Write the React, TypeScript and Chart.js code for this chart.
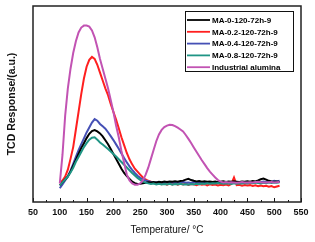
import React, { useEffect, useRef } from "react";
import { Chart, registerables } from "chart.js";

Chart.register(...registerables);

const temps = [
  100, 105, 110, 115, 120, 125, 130, 135, 140, 145, 150, 155, 160, 165, 170, 175, 180, 185, 190, 195,
  200, 205, 210, 215, 220, 225, 230, 235, 240, 245, 250, 255, 260, 265, 270, 275, 280, 285, 290, 295,
  300, 305, 310, 315, 320, 325, 330, 335, 340, 345, 350, 355, 360, 365, 370, 375, 380, 385, 390, 395,
  400, 405, 410, 415, 420, 425, 430, 435, 440, 445, 450, 455, 460, 465, 470, 475, 480, 485, 490, 495,
  500, 505, 510,
];

const seriesLabels = [
  "MA-0-120-72h-9",
  "MA-0.2-120-72h-9",
  "MA-0.4-120-72h-9",
  "MA-0.8-120-72h-9",
  "Industrial alumina",
];

const ma0 = [
  8.5, 10, 11.5, 13, 15.5, 18.5, 21.5, 24.5, 27.5, 30, 32.6, 34.8, 36.2, 36.7, 36, 35, 33.5, 31.5, 29.5, 27,
  24.5, 22, 19.5, 17, 14.8, 13.2, 11.8, 10.4, 9.6, 9.2, 9.3, 9.6, 9.8, 10.1, 9.9, 10.2, 10, 10.3, 10.1, 10.4,
  10.2, 10.5, 10.3, 10.6, 10.4, 10.7, 10.9, 11.4, 11.8, 11.2, 10.8, 10.5, 10.7, 10.4, 10.6, 10.3, 10.5, 10.2, 10.4, 10.1,
  10.3, 10.6, 10.2, 10.5, 10.3, 10.6, 10.4, 10.2, 10.5, 10.3, 10.6, 10.4, 10.7, 10.5, 11, 11.6, 12, 11.4, 10.8, 10.5,
  10.3, 10.5, 10.2,
];

const ma02 = [
  9.5, 11, 13, 16.5, 22, 28, 37, 46, 55, 63, 69, 72.5, 74, 73, 70, 66, 62, 58, 54.5, 50,
  46, 42, 37.6, 33, 29, 25, 21.8, 19.2, 17, 15.5, 14, 12.5, 11.5, 10.8, 10.4, 9.8, 9.3, 9.7, 9.1, 9.5,
  8.9, 9.4, 9.0, 9.6, 8.8, 9.3, 9.0, 9.4, 8.7, 9.2, 9.0, 8.6, 9.2, 8.8, 9.1, 8.5, 9.0, 8.7, 8.9, 8.4,
  8.8, 8.6, 8.9, 8.5, 9.2, 12.5, 8.6, 8.8, 8.3, 8.7, 8.4, 8.6, 8.2, 8.5, 8.1, 8.4, 8.0, 8.3, 7.8, 8.1,
  7.5, 7.9, 8.3,
];

const ma04 = [
  7, 9, 11, 13, 16, 19.5, 23, 26.5, 29.5, 32.5, 35.5, 38, 40.5, 42.3, 41.5, 39.8, 38.6, 37.4, 35.6, 33.6,
  31.6, 29.4, 27.2, 24.8, 22.4, 20.2, 18.2, 16.4, 14.8, 13.4, 12.3, 11.5, 11, 10.6, 10.2, 9.8, 10.1, 9.6, 10, 9.7,
  10.2, 9.8, 10, 9.6, 10.1, 9.9, 10.3, 9.8, 10, 9.7, 10.2, 9.9, 10.1, 9.7, 10, 9.8, 10.2, 9.9, 10, 9.6,
  9.9, 10.1, 9.8, 10, 9.7, 10.1, 9.9, 10, 9.8, 10.2, 9.9, 10.1, 9.8, 10, 10.3, 10.1, 10.4, 10.2, 10.6, 10.3,
  10.8, 10.5, 10.9,
];

const ma08 = [
  8.5, 10, 11.5, 13, 15, 17.5, 20.5, 23, 25.5, 28, 30, 31.8, 32.8, 33, 31.8, 30.4, 29.3, 28.2, 27, 25.8,
  24.5, 23.2, 21.8, 20.4, 19, 17.6, 16.2, 14.8, 13.5, 12.3, 11.3, 10.5, 9.9, 9.5, 9.2, 9.4, 9, 9.3, 8.9, 9.2,
  9.0, 9.3, 8.8, 9.2, 9.0, 9.3, 8.9, 9.1, 8.8, 9.2, 9.0, 9.3, 9.1, 9.4, 9.2, 9.5, 9.3, 9.6, 9.4, 9.7,
  9.5, 9.3, 9.6, 9.4, 9.2, 9.5, 9.3, 9.6, 9.4, 9.7, 9.5, 9.8, 9.6, 9.9, 9.7, 9.5, 9.8, 9.6, 9.9, 9.7,
  10, 9.8, 10.1,
];

const industrial = [
  9.5, 24, 44, 58, 68, 76, 82, 86.5, 89, 90, 90, 89.5, 87.5, 84, 79, 73, 68, 63, 58, 52,
  46, 39, 33, 26, 20, 14, 11, 9.5, 8.8, 8.8, 9.5, 11, 13.8, 17.5, 22, 26.5, 31, 34.5, 36.8, 38.2,
  39, 39.4, 39.3, 38.7, 37.9, 37, 36, 34.2, 32.2, 30.1, 27.8, 25.6, 23.5, 21.3, 19.3, 17.3, 15.5, 14, 12.5, 11.2,
  10.4, 10, 10.2, 9.9, 10.1, 10, 9.8, 10, 10.2, 10, 9.9, 10.1, 10, 10.2, 10.3, 10.1, 10, 9.9, 10.1, 10.2,
  10, 10.1, 10.2,
];

const seriesValues = [ma0, ma02, ma04, ma08, industrial];
const seriesColors = ["#000000", "#ff1f1f", "#4550b5", "#1f9585", "#c253b3"];
const drawOrder = [3, 5, 4, 2, 1];

const xTicks = [50, 100, 150, 200, 250, 300, 350, 400, 450, 500, 550];
const xMinorTicks = [75, 125, 175, 225, 275, 325, 375, 425, 475, 525];

const FONT = "'Liberation Sans', Arial, Helvetica, sans-serif";

const framePlugin = {
  id: "frameAndLegend",
  afterDatasetsDraw(chart: any) {
    const { ctx, chartArea } = chart;
    const xs = chart.scales.x;
    ctx.save();
    // inward ticks on the bottom axis
    ctx.strokeStyle = "#111";
    ctx.lineWidth = 1;
    ctx.beginPath();
    xTicks.forEach((v) => {
      const px = Math.round(xs.getPixelForValue(v)) + 0.5;
      ctx.moveTo(px, chartArea.bottom);
      ctx.lineTo(px, chartArea.bottom - 4);
    });
    xMinorTicks.forEach((v) => {
      const px = Math.round(xs.getPixelForValue(v)) + 0.5;
      ctx.moveTo(px, chartArea.bottom);
      ctx.lineTo(px, chartArea.bottom - 2);
    });
    ctx.stroke();
    // frame
    ctx.lineWidth = 1.5;
    ctx.strokeStyle = "#222";
    ctx.strokeRect(chartArea.left, chartArea.top, chartArea.right - chartArea.left, chartArea.bottom - chartArea.top);

    // legend
    const bx = chartArea.right - 116;
    const by = chartArea.top + 5;
    const bw = 108;
    const bh = 60;
    ctx.fillStyle = "#fff";
    ctx.fillRect(bx, by, bw, bh);
    ctx.lineWidth = 1;
    ctx.strokeStyle = "#111";
    ctx.strokeRect(bx + 0.5, by + 0.5, bw, bh);
    ctx.font = `bold 8px ${FONT}`;
    ctx.textBaseline = "middle";
    ctx.textAlign = "left";
    chart.data.datasets.forEach((ds: any, i: number) => {
      const y = by + 9 + i * 11.8;
      ctx.strokeStyle = ds.borderColor;
      ctx.lineWidth = 1.8;
      ctx.beginPath();
      ctx.moveTo(bx + 2, y);
      ctx.lineTo(bx + 25, y);
      ctx.stroke();
      ctx.fillStyle = "#000";
      ctx.fillText(ds.label, bx + 27, y + 0.5);
    });
    ctx.restore();
  },
};

export default function App() {
  const canvasRef = useRef<HTMLCanvasElement | null>(null);

  useEffect(() => {
    document.body.style.margin = "0";
    const canvas = canvasRef.current;
    if (!canvas) return;
    const chart = new Chart(canvas, {
      type: "line",
      data: {
        datasets: seriesLabels.map((label, i) => ({
          label,
          data: temps.map((t, j) => ({ x: t, y: seriesValues[i][j] })),
          borderColor: seriesColors[i],
          backgroundColor: seriesColors[i],
          borderWidth: 2,
          pointRadius: 0,
          tension: 0,
          fill: false,
          order: drawOrder[i],
        })),
      },
      options: {
        animation: false,
        responsive: false,
        events: [],
        layout: { padding: { top: 6, right: 14, left: 0, bottom: 0 } },
        plugins: {
          legend: { display: false },
          tooltip: { enabled: false },
        },
        scales: {
          x: {
            type: "linear",
            min: 50,
            max: 550,
            afterBuildTicks: (scale: any) => {
              scale.ticks = xTicks.map((v) => ({ value: v }));
            },
            afterFit: (scale: any) => {
              scale.height = 40;
            },
            grid: { display: false, drawTicks: false },
            border: { display: false },
            ticks: {
              color: "#111",
              padding: 5,
              maxRotation: 0,
              autoSkip: false,
              font: { family: FONT, size: 9, weight: "bold" },
            },
            title: {
              display: true,
              text: "Temperature/ °C",
              color: "#111",
              font: { family: FONT, size: 10 },
              padding: { top: 0, bottom: 6 },
            },
          },
          y: {
            type: "linear",
            min: 0,
            max: 100,
            afterFit: (scale: any) => {
              scale.width = 33;
            },
            grid: { display: false, drawTicks: false },
            border: { display: false },
            ticks: { display: false },
            title: {
              display: true,
              text: "TCD Response/(a.u.)",
              color: "#111",
              font: { family: FONT, size: 10.5, weight: "bold" },
              padding: { top: 6, bottom: 0 },
            },
          },
        },
      },
      plugins: [framePlugin],
    });
    return () => chart.destroy();
  }, []);

  return (
    <div style={{ width: 315, height: 242, background: "#fff" }}>
      <canvas ref={canvasRef} width={315} height={242} style={{ display: "block" }} />
    </div>
  );
}
